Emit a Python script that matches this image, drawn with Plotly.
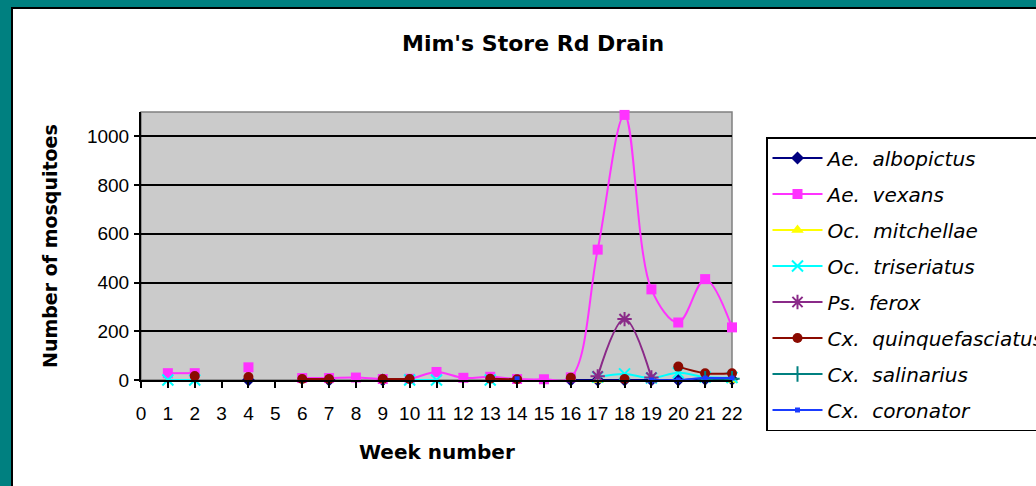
import plotly.graph_objects as go

weeks = list(range(1, 23))
N = None
# values per week 1..22 (None = no data)
albopictus       = [N, N, N, 0, N, N, 0, N, 0, N, N, N, N, N, N, 0, 0, 0, 0, 0, 3, 3]
vexans           = [28, 28, N, 52, N, 8, 8, 10, 4, 5, 33, 9, 13, 4, 3, 11, 535, 1088, 372, 236, 414, 216]
mitchellae       = [N, N, N, N, N, N, N, N, N, N, N, N, N, N, N, N, 0, N, N, N, N, 0]
triseriatus      = [0, 0, N, N, N, N, N, N, N, 0, 0, N, 0, N, N, N, 12, 25, 8, 30, 12, 10]
ferox            = [N, N, N, N, N, N, N, N, N, N, N, N, N, N, N, N, 15, 250, 10, N, N, N]
quinquefasciatus = [N, 16, N, 12, N, 4, 4, N, 4, 4, N, N, 5, 3, N, 9, N, 4, N, 55, 28, 28]
salinarius       = [N, N, N, N, N, N, N, N, N, N, N, N, N, N, N, N, N, N, N, N, 5, 5]
coronator        = [N, N, N, N, N, N, N, N, N, N, N, N, N, 5, N, N, N, N, 0, 0, 8, 8]

series_names = ["Ae.  albopictus", "Ae.  vexans", "Oc.  mitchellae", "Oc.  triseriatus",
                "Ps.  ferox", "Cx.  quinquefasciatus", "Cx.  salinarius", "Cx.  coronator"]
series_vals = [albopictus, vexans, mitchellae, triseriatus, ferox, quinquefasciatus, salinarius, coronator]
colors = ["#000080", "#FF33FF", "#FFFF00", "#00FFFF", "#8A2A88", "#8B0A00", "#008080", "#1A3CFF"]
symbols = ["diamond", "square", "triangle-up", "x-thin-open", "asterisk-open", "circle", "cross-thin-open", "square"]
sizes = [10, 10, 11, 11, 12, 10, 11, 5]

title_text = "Mim's Store Rd Drain"
xtitle = "Week number"
ytitle = "Number of mosquitoes"

fig = go.Figure()
for name, vals, c, s, sz in zip(series_names, series_vals, colors, symbols, sizes):
    fig.add_trace(go.Scatter(
        x=weeks, y=vals, name="<i>" + name + "</i>", mode="lines+markers",
        line=dict(color=c, width=2, shape="spline", smoothing=1.0),
        marker=dict(symbol=s, size=sz, color=c, line=dict(color=c, width=2 if "open" in s else 0)),
        connectgaps=False, cliponaxis=False, legendgroup=name,
    ))

# plot area pixel geometry
L, R, T, B = 141, 732, 112, 380
W, H = R - L, B - T
def px(x): return (x - L) / W
def py(y): return (B - y) / H

shapes = [
    dict(type="rect", xref="paper", yref="paper", x0=px(12), x1=px(1045), y0=py(495), y1=py(8),
         fillcolor="white", line=dict(color="black", width=2), layer="below"),
    dict(type="rect", xref="paper", yref="paper", x0=0, x1=1, y0=0, y1=1,
         fillcolor="#CBCBCB", line=dict(color="#808080", width=1.5), layer="below"),
]

annotations = [
    dict(text="<b>" + title_text + "</b>", xref="paper", yref="paper", x=px(533), y=py(44),
         showarrow=False, font=dict(family="DejaVu Sans", size=22, color="black"), xanchor="center", yanchor="middle"),
    dict(text="<b>" + xtitle + "</b>", xref="paper", yref="paper", x=px(437), y=py(452),
         showarrow=False, font=dict(family="DejaVu Sans", size=20, color="black"), xanchor="center", yanchor="middle"),
    dict(text="<b>" + ytitle + "</b>", xref="paper", yref="paper", x=px(50), y=py(246), textangle=-90,
         showarrow=False, font=dict(family="DejaVu Sans", size=19, color="black"), xanchor="center", yanchor="middle"),
]

fig.update_layout(
    width=1036, height=486,
    margin=dict(l=L, r=1036 - R, t=T, b=486 - B, autoexpand=False),
    paper_bgcolor="#008080", plot_bgcolor="rgba(0,0,0,0)",
    shapes=shapes, annotations=annotations,
    font=dict(family="Liberation Sans, Arial", color="black"),
    showlegend=True,
    legend=dict(x=px(766), y=py(137), xanchor="left", yanchor="top",
                bgcolor="white", bordercolor="black", borderwidth=1.5,
                font=dict(family="DejaVu Sans", size=20, color="black"),
                tracegroupgap=7, itemwidth=50, traceorder="grouped", maxheight=400),
)
fig.update_xaxes(range=[0, 22], dtick=1, tick0=0, showgrid=False, zeroline=False,
                 showline=True, linecolor="black", linewidth=2,
                 ticks="outside", ticklen=6, tickcolor="black", tickwidth=2,
                 tickfont=dict(size=19, family="Liberation Sans, Arial"), ticklabelstandoff=9)
fig.update_yaxes(range=[0, 1100], tickvals=[0, 200, 400, 600, 800, 1000], showgrid=True,
                 gridcolor="black", gridwidth=2, zeroline=False,
                 showline=True, linecolor="black", linewidth=2,
                 ticks="outside", ticklen=5, tickcolor="black", tickwidth=2,
                 tickfont=dict(size=19, family="Liberation Sans, Arial"), ticklabelstandoff=1)

fig.write_html("out.html", config={"displayModeBar": False},
               post_script="document.body.style.margin='0';")
